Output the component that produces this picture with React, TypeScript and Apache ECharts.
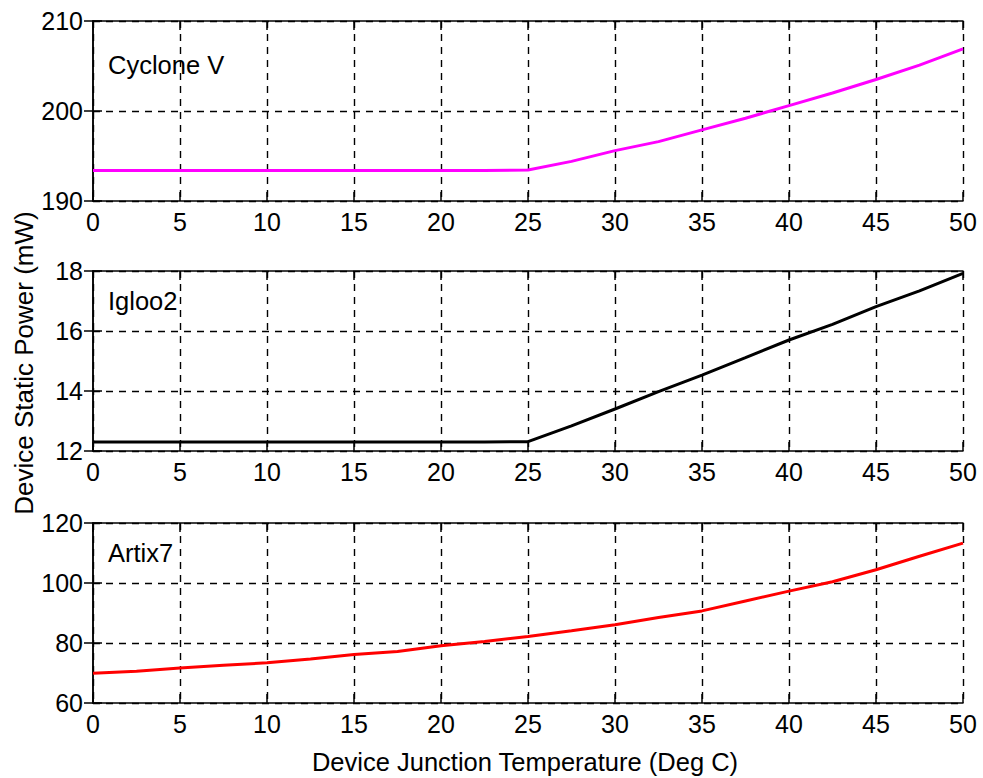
import React, { useEffect, useRef } from "react";
import * as echarts from "echarts";

const temps = [0, 2.5, 5, 7.5, 10, 12.5, 15, 17.5, 20, 22.5, 25, 27.5, 30, 32.5, 35, 37.5, 40, 42.5, 45, 47.5, 50];
const cycloneV = [193.4, 193.4, 193.4, 193.4, 193.4, 193.4, 193.4, 193.4, 193.4, 193.4, 193.45, 194.4, 195.6, 196.6, 197.9, 199.2, 200.6, 202.0, 203.5, 205.1, 206.9];
const igloo2 = [12.3, 12.3, 12.3, 12.3, 12.3, 12.3, 12.3, 12.3, 12.3, 12.3, 12.31, 12.84, 13.4, 13.98, 14.53, 15.11, 15.7, 16.22, 16.81, 17.34, 17.92];
const artix7 = [69.9, 70.6, 71.7, 72.6, 73.4, 74.7, 76.2, 77.2, 79.1, 80.5, 82.2, 84.1, 86.1, 88.5, 90.7, 94.0, 97.3, 100.4, 104.4, 108.9, 113.3];

const panelNames = ["Cyclone V", "Igloo2", "Artix7"];
const panelSeries = [cycloneV, igloo2, artix7];
const panelColors = ["#ff00ff", "#000000", "#ff0000"];
const yMins = [190, 12, 60];
const yMaxs = [210, 18, 120];
const yIntervals = [10, 2, 20];
const xMin = 0;
const xMax = 50;
const xInterval = 5;
const xTitle = "Device Junction Temperature (Deg C)";
const yTitle = "Device Static Power (mW)";

const FONT = "'Liberation Sans', Arial, sans-serif";
const FS = 25;

export default function App() {
  const ref = useRef<HTMLDivElement>(null);
  useEffect(() => {
    if (!ref.current) return;
    const chart = echarts.init(ref.current, undefined, { renderer: "svg" });
    const tops = [21, 271, 523];
    const grids = tops.map((t) => ({ left: 93, right: 20, top: t, height: 180, containLabel: false }));
    const axisLine = { show: true, lineStyle: { color: "#000", width: 1.5 } };
    const tick = { show: true, inside: true, length: 9, lineStyle: { color: "#000", width: 1.5 } };
    const split = { show: true, lineStyle: { color: "#000", width: 1.4, type: [7, 6] as any } };
    const label = { color: "#000", fontSize: FS, fontFamily: FONT };
    const xAxes: any[] = [];
    const yAxes: any[] = [];
    const series: any[] = [];
    for (let i = 0; i < 3; i++) {
      xAxes.push({
        type: "value", gridIndex: i, position: "bottom", min: xMin, max: xMax, interval: xInterval,
        axisLine, axisTick: tick, splitLine: split,
        axisLabel: { ...label, margin: 8, showMinLabel: true, showMaxLabel: true },
      });
      xAxes.push({
        type: "value", gridIndex: i, position: "top", min: xMin, max: xMax, interval: xInterval,
        axisLine, axisTick: tick, splitLine: { show: false }, axisLabel: { show: false },
      });
      yAxes.push({
        type: "value", gridIndex: i, position: "left", min: yMins[i], max: yMaxs[i], interval: yIntervals[i],
        axisLine, axisTick: tick, splitLine: split,
        axisLabel: { ...label, margin: 10, showMinLabel: true, showMaxLabel: true },
      });
      yAxes.push({
        type: "value", gridIndex: i, position: "right", min: yMins[i], max: yMaxs[i], interval: yIntervals[i],
        axisLine, axisTick: tick, splitLine: { show: false }, axisLabel: { show: false },
      });
      series.push({
        type: "line", name: panelNames[i], xAxisIndex: i * 2, yAxisIndex: i * 2,
        data: temps.map((t, k) => [t, panelSeries[i][k]]),
        showSymbol: false, symbol: "none",
        lineStyle: { color: panelColors[i], width: 3 },
        itemStyle: { color: panelColors[i] },
      });
    }
    const labelYs = [65, 301, 553];
    const graphic: any[] = panelNames.map((n, i) => ({
      type: "text", x: 108, y: labelYs[i],
      style: { text: n, fill: "#000", font: `25.5px ${FONT}`, textAlign: "left", textVerticalAlign: "middle", align: "left", verticalAlign: "middle" },
    }));
    graphic.push({
      type: "text", x: 525, y: 762,
      style: { text: xTitle, fill: "#000", font: `25.5px ${FONT}`, textAlign: "center", textVerticalAlign: "middle", align: "center", verticalAlign: "middle" },
    });
    graphic.push({
      type: "text", x: 24, y: 363, rotation: Math.PI / 2,
      style: { text: yTitle, fill: "#000", font: `26px ${FONT}`, textAlign: "center", textVerticalAlign: "middle", align: "center", verticalAlign: "middle" },
    });
    chart.setOption({
      animation: false,
      backgroundColor: "#fff",
      grid: grids,
      xAxis: xAxes,
      yAxis: yAxes,
      series,
      graphic,
    });
    return () => chart.dispose();
  }, []);
  return <div ref={ref} style={{ position: "fixed", left: 0, top: 0, width: 983, height: 778 }} />;
}
